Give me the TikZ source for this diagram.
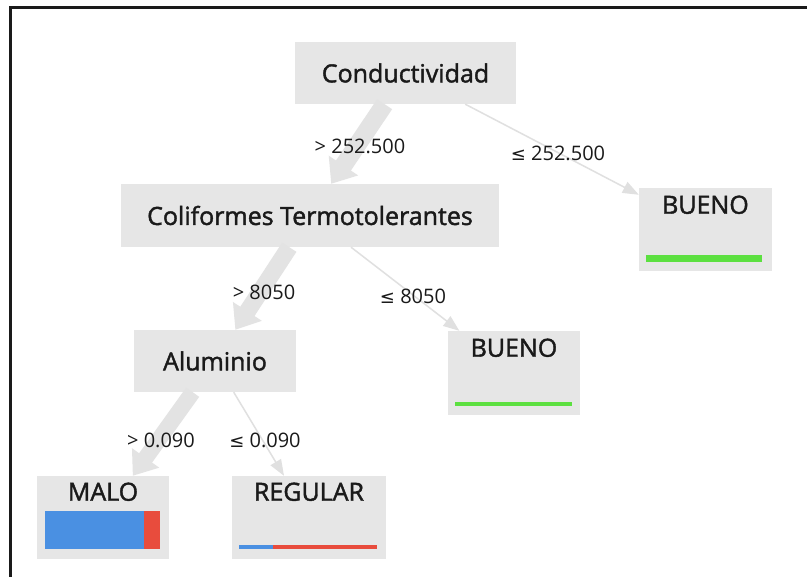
\documentclass[tikz,border=0pt]{standalone}
\usepackage{fontspec}
\setmainfont{Open Sans}
\newfontfamily\titlefont[FakeBold=1.6]{Open Sans}
\newfontfamily\symfont{DejaVu Sans}
\usetikzlibrary{arrows.meta}
\definecolor{boxgray}{HTML}{E6E6E6}
\definecolor{edgegray}{HTML}{E3E3E3}
\definecolor{thingray}{HTML}{E0E0E0}
\definecolor{barblue}{HTML}{4A90E2}
\definecolor{barred}{HTML}{E84C3D}
\definecolor{bargreen}{HTML}{5CE040}
\definecolor{txt}{HTML}{1A1A1A}
\tikzset{
  box/.style={rectangle, fill=boxgray, inner sep=0pt},
  title/.style={font=\titlefont\fontsize{25}{29}\selectfont, text=txt, inner sep=0pt},
  elabel/.style={font=\fontsize{20}{24}\selectfont, text=txt, inner sep=0pt},
  thickedge/.style={draw=edgegray, line width=#1, -{Triangle[length=22pt,width=#1+16pt]}},
  thinedge/.style={draw=thingray, line width=1.5pt, -{Triangle[length=16pt,width=12pt]}},
}
\newcommand{\lesym}{{\symfont\fontsize{18}{22}\selectfont ≤}}
\begin{document}
\begin{tikzpicture}[x=1pt,y=-1pt]
\useasboundingbox (0,0) rectangle (807,577);
\fill[white] (0,0) rectangle (807,577);
\draw[line width=3pt, draw=txt] (10.5,577) -- (10.5,7.5) -- (807,7.5);

% internal nodes
\node[box, minimum width=221pt, minimum height=62pt] (cond) at (405.5,73) {};
\node[title] (condt) at (cond.center) {Conductividad};
\node[box, minimum width=378pt, minimum height=63pt] (colif) at (310,215.5) {};
\node[title] (coliftt) at (colif.center) {Coliformes Termotolerantes};
\node[box, minimum width=162pt, minimum height=62pt] (alum) at (215,361) {};
\node[title] (alumt) at (alum.center) {Aluminio};

% leaves
\node[box, minimum width=133pt, minimum height=83pt] (b1) at (705.5,229.5) {};
\node[title] (b1t) at ([yshift=-17pt]b1.north) {BUENO};
\node[box, minimum width=132pt, minimum height=84pt] (b2) at (514,373) {};
\node[title] (b2t) at ([yshift=-17pt]b2.north) {BUENO};
\node[box, minimum width=132pt, minimum height=83pt] (malo) at (103,517.5) {};
\node[title] (malot) at ([yshift=-16pt]malo.north) {MALO};
\node[box, minimum width=154pt, minimum height=83pt] (reg) at (309,517.5) {};
\node[title] (regt) at ([yshift=-16pt]reg.north) {REGULAR};

% bars
\fill[bargreen] ([shift={(7pt,-67pt)}]b1.north west) rectangle ([shift={(123pt,-74pt)}]b1.north west);
\fill[bargreen] ([shift={(7pt,-71.5pt)}]b2.north west) rectangle ([shift={(124pt,-75pt)}]b2.north west);
\fill[barblue] ([shift={(8pt,-35pt)}]malo.north west) rectangle ([shift={(107pt,-73pt)}]malo.north west);
\fill[barred] ([shift={(107pt,-35pt)}]malo.north west) rectangle ([shift={(123pt,-73pt)}]malo.north west);
\fill[barblue] ([shift={(7pt,-69pt)}]reg.north west) rectangle ([shift={(41pt,-73pt)}]reg.north west);
\fill[barred] ([shift={(41pt,-69pt)}]reg.north west) rectangle ([shift={(145pt,-73pt)}]reg.north west);

% edges
\draw[thickedge=18pt] (cond) -- (colif);
\draw[thinedge] (cond) -- (b1);
\draw[thickedge=17pt] (colif) -- (alum);
\draw[thinedge] (colif) -- (b2);
\draw[thickedge=16pt] (alum) -- (malo);
\draw[thinedge] (alum) -- (reg);

% edge labels
\node[elabel] (l1) at (360,146) {> 252.500};
\node[elabel] (l2) at (558,153) {\lesym\ 252.500};
\node[elabel] (l3) at (264,292) {> 8050};
\node[elabel] (l4) at (413,296) {\lesym\ 8050};
\node[elabel] (l5) at (161,440) {> 0.090};
\node[elabel] (l6) at (265,440) {\lesym\ 0.090};
\end{tikzpicture}
\end{document}
